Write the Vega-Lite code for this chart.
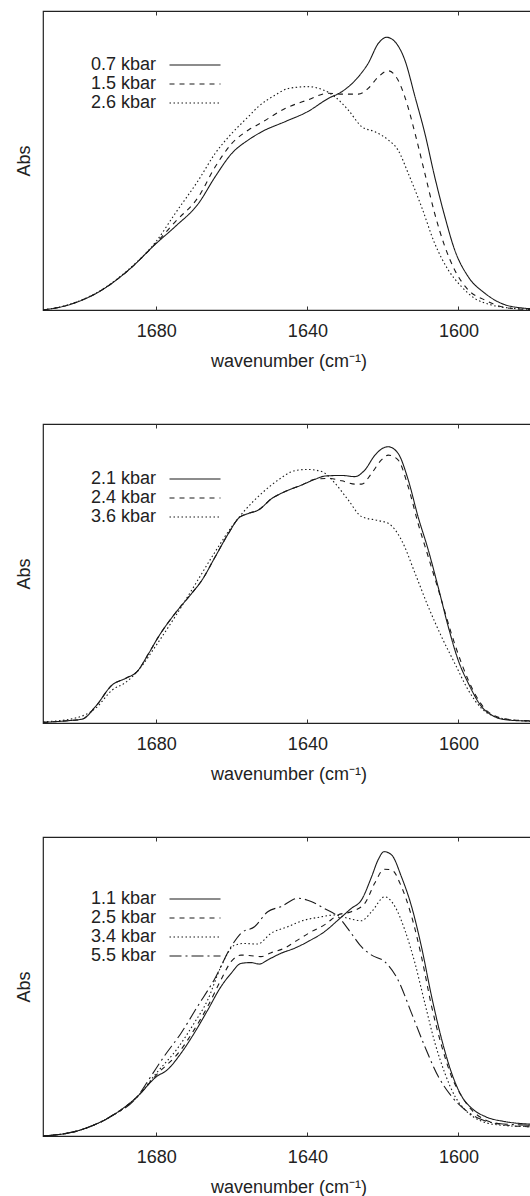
{
  "$schema": "https://vega.github.io/schema/vega-lite/v6.json",
  "padding": {"left": 14, "top": 9, "right": 0, "bottom": 0},
  "config": {
    "font": "Liberation Sans",
    "view": {"stroke": "#222", "strokeWidth": 1.2},
    "axis": {"grid": false, "domain": false, "labelColor": "#222", "titleColor": "#222", "tickColor": "#333"},
    "line": {"interpolate": "monotone", "strokeWidth": 1.1, "color": "#1a1a1a", "clip": true}
  },
  "datasets": {
    "p1": [
      {"w":1710,"a":0.0,"s":"0.7 kbar"},{"w":1703.2,"a":0.017,"s":"0.7 kbar"},{"w":1694.4,"a":0.067,"s":"0.7 kbar"},{"w":1687.3,"a":0.134,"s":"0.7 kbar"},{"w":1680,"a":0.223,"s":"0.7 kbar"},{"w":1675,"a":0.279,"s":"0.7 kbar"},{"w":1668.8,"a":0.357,"s":"0.7 kbar"},{"w":1664.4,"a":0.446,"s":"0.7 kbar"},{"w":1660,"a":0.524,"s":"0.7 kbar"},{"w":1655.6,"a":0.569,"s":"0.7 kbar"},{"w":1652.1,"a":0.596,"s":"0.7 kbar"},{"w":1645.9,"a":0.63,"s":"0.7 kbar"},{"w":1640,"a":0.663,"s":"0.7 kbar"},{"w":1634.4,"a":0.708,"s":"0.7 kbar"},{"w":1630.9,"a":0.73,"s":"0.7 kbar"},{"w":1626.5,"a":0.78,"s":"0.7 kbar"},{"w":1623.9,"a":0.825,"s":"0.7 kbar"},{"w":1621.2,"a":0.892,"s":"0.7 kbar"},{"w":1619,"a":0.912,"s":"0.7 kbar"},{"w":1616.8,"a":0.897,"s":"0.7 kbar"},{"w":1614.2,"a":0.836,"s":"0.7 kbar"},{"w":1611.5,"a":0.713,"s":"0.7 kbar"},{"w":1608.9,"a":0.591,"s":"0.7 kbar"},{"w":1606.3,"a":0.446,"s":"0.7 kbar"},{"w":1603.6,"a":0.312,"s":"0.7 kbar"},{"w":1601,"a":0.201,"s":"0.7 kbar"},{"w":1597.4,"a":0.111,"s":"0.7 kbar"},{"w":1593,"a":0.056,"s":"0.7 kbar"},{"w":1588.6,"a":0.022,"s":"0.7 kbar"},{"w":1582.6,"a":0.006,"s":"0.7 kbar"},{"w":1580,"a":0.004,"s":"0.7 kbar"},
      {"w":1710,"a":0.0,"s":"1.5 kbar"},{"w":1703.2,"a":0.017,"s":"1.5 kbar"},{"w":1694.4,"a":0.067,"s":"1.5 kbar"},{"w":1687.3,"a":0.134,"s":"1.5 kbar"},{"w":1680,"a":0.225,"s":"1.5 kbar"},{"w":1675,"a":0.295,"s":"1.5 kbar"},{"w":1668.8,"a":0.379,"s":"1.5 kbar"},{"w":1664.4,"a":0.479,"s":"1.5 kbar"},{"w":1660,"a":0.557,"s":"1.5 kbar"},{"w":1655.6,"a":0.602,"s":"1.5 kbar"},{"w":1652.1,"a":0.627,"s":"1.5 kbar"},{"w":1645.9,"a":0.674,"s":"1.5 kbar"},{"w":1640,"a":0.702,"s":"1.5 kbar"},{"w":1634.4,"a":0.725,"s":"1.5 kbar"},{"w":1630.9,"a":0.722,"s":"1.5 kbar"},{"w":1626.5,"a":0.722,"s":"1.5 kbar"},{"w":1623.9,"a":0.741,"s":"1.5 kbar"},{"w":1621.2,"a":0.78,"s":"1.5 kbar"},{"w":1618.6,"a":0.8,"s":"1.5 kbar"},{"w":1616,"a":0.769,"s":"1.5 kbar"},{"w":1614.2,"a":0.713,"s":"1.5 kbar"},{"w":1611.5,"a":0.591,"s":"1.5 kbar"},{"w":1608.9,"a":0.457,"s":"1.5 kbar"},{"w":1606.3,"a":0.323,"s":"1.5 kbar"},{"w":1603.6,"a":0.212,"s":"1.5 kbar"},{"w":1601,"a":0.134,"s":"1.5 kbar"},{"w":1597.4,"a":0.067,"s":"1.5 kbar"},{"w":1593,"a":0.033,"s":"1.5 kbar"},{"w":1588.6,"a":0.011,"s":"1.5 kbar"},{"w":1582.6,"a":0.002,"s":"1.5 kbar"},{"w":1580,"a":0.001,"s":"1.5 kbar"},
      {"w":1710,"a":0.0,"s":"2.6 kbar"},{"w":1703.2,"a":0.018,"s":"2.6 kbar"},{"w":1694.4,"a":0.068,"s":"2.6 kbar"},{"w":1687.3,"a":0.136,"s":"2.6 kbar"},{"w":1680,"a":0.23,"s":"2.6 kbar"},{"w":1675,"a":0.323,"s":"2.6 kbar"},{"w":1668.8,"a":0.435,"s":"2.6 kbar"},{"w":1664.4,"a":0.524,"s":"2.6 kbar"},{"w":1660,"a":0.591,"s":"2.6 kbar"},{"w":1655.6,"a":0.647,"s":"2.6 kbar"},{"w":1653,"a":0.68,"s":"2.6 kbar"},{"w":1648.5,"a":0.719,"s":"2.6 kbar"},{"w":1645,"a":0.741,"s":"2.6 kbar"},{"w":1640,"a":0.747,"s":"2.6 kbar"},{"w":1636.2,"a":0.738,"s":"2.6 kbar"},{"w":1632.7,"a":0.713,"s":"2.6 kbar"},{"w":1629.2,"a":0.669,"s":"2.6 kbar"},{"w":1625.6,"a":0.613,"s":"2.6 kbar"},{"w":1622.1,"a":0.596,"s":"2.6 kbar"},{"w":1618.6,"a":0.569,"s":"2.6 kbar"},{"w":1616,"a":0.535,"s":"2.6 kbar"},{"w":1613.3,"a":0.457,"s":"2.6 kbar"},{"w":1609.8,"a":0.346,"s":"2.6 kbar"},{"w":1606.3,"a":0.223,"s":"2.6 kbar"},{"w":1602.7,"a":0.134,"s":"2.6 kbar"},{"w":1599.2,"a":0.078,"s":"2.6 kbar"},{"w":1595.7,"a":0.039,"s":"2.6 kbar"},{"w":1591.3,"a":0.017,"s":"2.6 kbar"},{"w":1586,"a":0.006,"s":"2.6 kbar"},{"w":1580,"a":0.002,"s":"2.6 kbar"}
    ],
    "p2": [
      {"w":1710,"a":0.002,"s":"2.1 kbar"},{"w":1703.2,"a":0.008,"s":"2.1 kbar"},{"w":1699.6,"a":0.013,"s":"2.1 kbar"},{"w":1696.1,"a":0.055,"s":"2.1 kbar"},{"w":1691.7,"a":0.127,"s":"2.1 kbar"},{"w":1688.2,"a":0.149,"s":"2.1 kbar"},{"w":1685.1,"a":0.172,"s":"2.1 kbar"},{"w":1682,"a":0.233,"s":"2.1 kbar"},{"w":1679.4,"a":0.289,"s":"2.1 kbar"},{"w":1675,"a":0.367,"s":"2.1 kbar"},{"w":1670.6,"a":0.434,"s":"2.1 kbar"},{"w":1667.9,"a":0.478,"s":"2.1 kbar"},{"w":1664.4,"a":0.556,"s":"2.1 kbar"},{"w":1660.9,"a":0.634,"s":"2.1 kbar"},{"w":1658.2,"a":0.685,"s":"2.1 kbar"},{"w":1655.6,"a":0.701,"s":"2.1 kbar"},{"w":1653,"a":0.712,"s":"2.1 kbar"},{"w":1649.4,"a":0.751,"s":"2.1 kbar"},{"w":1645.9,"a":0.774,"s":"2.1 kbar"},{"w":1641.5,"a":0.796,"s":"2.1 kbar"},{"w":1638,"a":0.815,"s":"2.1 kbar"},{"w":1635.3,"a":0.826,"s":"2.1 kbar"},{"w":1630.9,"a":0.828,"s":"2.1 kbar"},{"w":1627.4,"a":0.824,"s":"2.1 kbar"},{"w":1624.8,"a":0.846,"s":"2.1 kbar"},{"w":1622.1,"a":0.896,"s":"2.1 kbar"},{"w":1619.5,"a":0.922,"s":"2.1 kbar"},{"w":1618.6,"a":0.924,"s":"2.1 kbar"},{"w":1616,"a":0.902,"s":"2.1 kbar"},{"w":1613.3,"a":0.813,"s":"2.1 kbar"},{"w":1610.7,"a":0.69,"s":"2.1 kbar"},{"w":1608,"a":0.579,"s":"2.1 kbar"},{"w":1605.4,"a":0.456,"s":"2.1 kbar"},{"w":1602.7,"a":0.322,"s":"2.1 kbar"},{"w":1600.1,"a":0.211,"s":"2.1 kbar"},{"w":1597.4,"a":0.133,"s":"2.1 kbar"},{"w":1593.9,"a":0.055,"s":"2.1 kbar"},{"w":1590.4,"a":0.021,"s":"2.1 kbar"},{"w":1586.9,"a":0.01,"s":"2.1 kbar"},{"w":1582.6,"a":0.007,"s":"2.1 kbar"},{"w":1580,"a":0.006,"s":"2.1 kbar"},
      {"w":1710,"a":0.002,"s":"2.4 kbar"},{"w":1703.2,"a":0.008,"s":"2.4 kbar"},{"w":1699.6,"a":0.013,"s":"2.4 kbar"},{"w":1696.1,"a":0.055,"s":"2.4 kbar"},{"w":1691.7,"a":0.127,"s":"2.4 kbar"},{"w":1688.2,"a":0.149,"s":"2.4 kbar"},{"w":1685.1,"a":0.172,"s":"2.4 kbar"},{"w":1682,"a":0.233,"s":"2.4 kbar"},{"w":1679.4,"a":0.289,"s":"2.4 kbar"},{"w":1675,"a":0.367,"s":"2.4 kbar"},{"w":1670.6,"a":0.434,"s":"2.4 kbar"},{"w":1667.9,"a":0.478,"s":"2.4 kbar"},{"w":1664.4,"a":0.556,"s":"2.4 kbar"},{"w":1660.9,"a":0.634,"s":"2.4 kbar"},{"w":1658.2,"a":0.685,"s":"2.4 kbar"},{"w":1655.6,"a":0.701,"s":"2.4 kbar"},{"w":1653,"a":0.712,"s":"2.4 kbar"},{"w":1649.4,"a":0.751,"s":"2.4 kbar"},{"w":1645.9,"a":0.774,"s":"2.4 kbar"},{"w":1641.5,"a":0.796,"s":"2.4 kbar"},{"w":1638,"a":0.815,"s":"2.4 kbar"},{"w":1634.4,"a":0.818,"s":"2.4 kbar"},{"w":1630.9,"a":0.81,"s":"2.4 kbar"},{"w":1627.4,"a":0.799,"s":"2.4 kbar"},{"w":1625.6,"a":0.799,"s":"2.4 kbar"},{"w":1623,"a":0.835,"s":"2.4 kbar"},{"w":1620.4,"a":0.88,"s":"2.4 kbar"},{"w":1618.6,"a":0.896,"s":"2.4 kbar"},{"w":1616,"a":0.88,"s":"2.4 kbar"},{"w":1613.3,"a":0.79,"s":"2.4 kbar"},{"w":1610.7,"a":0.668,"s":"2.4 kbar"},{"w":1608,"a":0.556,"s":"2.4 kbar"},{"w":1604.5,"a":0.411,"s":"2.4 kbar"},{"w":1601.9,"a":0.3,"s":"2.4 kbar"},{"w":1599.2,"a":0.2,"s":"2.4 kbar"},{"w":1595.7,"a":0.099,"s":"2.4 kbar"},{"w":1592.2,"a":0.038,"s":"2.4 kbar"},{"w":1586.9,"a":0.012,"s":"2.4 kbar"},{"w":1582.6,"a":0.008,"s":"2.4 kbar"},{"w":1580,"a":0.007,"s":"2.4 kbar"},
      {"w":1710,"a":0.004,"s":"3.6 kbar"},{"w":1703.2,"a":0.012,"s":"3.6 kbar"},{"w":1696.1,"a":0.049,"s":"3.6 kbar"},{"w":1691.7,"a":0.11,"s":"3.6 kbar"},{"w":1688.2,"a":0.135,"s":"3.6 kbar"},{"w":1684.7,"a":0.177,"s":"3.6 kbar"},{"w":1680.3,"a":0.255,"s":"3.6 kbar"},{"w":1675,"a":0.356,"s":"3.6 kbar"},{"w":1670.6,"a":0.445,"s":"3.6 kbar"},{"w":1664.4,"a":0.573,"s":"3.6 kbar"},{"w":1660,"a":0.657,"s":"3.6 kbar"},{"w":1656.5,"a":0.712,"s":"3.6 kbar"},{"w":1652.1,"a":0.768,"s":"3.6 kbar"},{"w":1647.7,"a":0.813,"s":"3.6 kbar"},{"w":1643.3,"a":0.844,"s":"3.6 kbar"},{"w":1640,"a":0.848,"s":"3.6 kbar"},{"w":1636.2,"a":0.841,"s":"3.6 kbar"},{"w":1632.7,"a":0.802,"s":"3.6 kbar"},{"w":1629.2,"a":0.746,"s":"3.6 kbar"},{"w":1625.6,"a":0.69,"s":"3.6 kbar"},{"w":1621.2,"a":0.677,"s":"3.6 kbar"},{"w":1618.6,"a":0.668,"s":"3.6 kbar"},{"w":1615.1,"a":0.612,"s":"3.6 kbar"},{"w":1611.5,"a":0.501,"s":"3.6 kbar"},{"w":1608,"a":0.389,"s":"3.6 kbar"},{"w":1604.5,"a":0.289,"s":"3.6 kbar"},{"w":1601,"a":0.2,"s":"3.6 kbar"},{"w":1597.4,"a":0.11,"s":"3.6 kbar"},{"w":1593.9,"a":0.049,"s":"3.6 kbar"},{"w":1588.6,"a":0.016,"s":"3.6 kbar"},{"w":1582.6,"a":0.007,"s":"3.6 kbar"},{"w":1580,"a":0.006,"s":"3.6 kbar"}
    ],
    "p3": [
      {"w":1710,"a":0.0,"s":"1.1 kbar"},{"w":1700.1,"a":0.02,"s":"1.1 kbar"},{"w":1692.1,"a":0.065,"s":"1.1 kbar"},{"w":1685,"a":0.132,"s":"1.1 kbar"},{"w":1680,"a":0.198,"s":"1.1 kbar"},{"w":1677.1,"a":0.221,"s":"1.1 kbar"},{"w":1673.5,"a":0.276,"s":"1.1 kbar"},{"w":1670,"a":0.343,"s":"1.1 kbar"},{"w":1666.4,"a":0.421,"s":"1.1 kbar"},{"w":1662.9,"a":0.499,"s":"1.1 kbar"},{"w":1660.2,"a":0.544,"s":"1.1 kbar"},{"w":1657.6,"a":0.577,"s":"1.1 kbar"},{"w":1654.9,"a":0.58,"s":"1.1 kbar"},{"w":1652.7,"a":0.575,"s":"1.1 kbar"},{"w":1650.5,"a":0.589,"s":"1.1 kbar"},{"w":1647,"a":0.611,"s":"1.1 kbar"},{"w":1643.4,"a":0.628,"s":"1.1 kbar"},{"w":1639,"a":0.656,"s":"1.1 kbar"},{"w":1635.5,"a":0.683,"s":"1.1 kbar"},{"w":1631.9,"a":0.722,"s":"1.1 kbar"},{"w":1628.4,"a":0.761,"s":"1.1 kbar"},{"w":1625.7,"a":0.789,"s":"1.1 kbar"},{"w":1623,"a":0.867,"s":"1.1 kbar"},{"w":1621.3,"a":0.923,"s":"1.1 kbar"},{"w":1619.7,"a":0.951,"s":"1.1 kbar"},{"w":1617.7,"a":0.94,"s":"1.1 kbar"},{"w":1615.1,"a":0.867,"s":"1.1 kbar"},{"w":1612.4,"a":0.767,"s":"1.1 kbar"},{"w":1609.8,"a":0.633,"s":"1.1 kbar"},{"w":1607.1,"a":0.466,"s":"1.1 kbar"},{"w":1604.4,"a":0.321,"s":"1.1 kbar"},{"w":1601.8,"a":0.21,"s":"1.1 kbar"},{"w":1599.1,"a":0.132,"s":"1.1 kbar"},{"w":1596.5,"a":0.093,"s":"1.1 kbar"},{"w":1592.9,"a":0.065,"s":"1.1 kbar"},{"w":1587.6,"a":0.048,"s":"1.1 kbar"},{"w":1581.6,"a":0.04,"s":"1.1 kbar"},{"w":1580,"a":0.039,"s":"1.1 kbar"},
      {"w":1710,"a":0.0,"s":"2.5 kbar"},{"w":1700.1,"a":0.02,"s":"2.5 kbar"},{"w":1692.1,"a":0.065,"s":"2.5 kbar"},{"w":1685,"a":0.132,"s":"2.5 kbar"},{"w":1680,"a":0.204,"s":"2.5 kbar"},{"w":1673.5,"a":0.288,"s":"2.5 kbar"},{"w":1670,"a":0.355,"s":"2.5 kbar"},{"w":1666.4,"a":0.433,"s":"2.5 kbar"},{"w":1662.9,"a":0.522,"s":"2.5 kbar"},{"w":1660.2,"a":0.583,"s":"2.5 kbar"},{"w":1657.6,"a":0.605,"s":"2.5 kbar"},{"w":1654.9,"a":0.603,"s":"2.5 kbar"},{"w":1652.3,"a":0.6,"s":"2.5 kbar"},{"w":1649.6,"a":0.613,"s":"2.5 kbar"},{"w":1646.1,"a":0.628,"s":"2.5 kbar"},{"w":1642.5,"a":0.656,"s":"2.5 kbar"},{"w":1639,"a":0.683,"s":"2.5 kbar"},{"w":1635.5,"a":0.706,"s":"2.5 kbar"},{"w":1631.9,"a":0.739,"s":"2.5 kbar"},{"w":1628.4,"a":0.75,"s":"2.5 kbar"},{"w":1624.8,"a":0.778,"s":"2.5 kbar"},{"w":1622.2,"a":0.845,"s":"2.5 kbar"},{"w":1619.7,"a":0.892,"s":"2.5 kbar"},{"w":1617.7,"a":0.89,"s":"2.5 kbar"},{"w":1615.1,"a":0.834,"s":"2.5 kbar"},{"w":1612.4,"a":0.734,"s":"2.5 kbar"},{"w":1609.8,"a":0.6,"s":"2.5 kbar"},{"w":1607.1,"a":0.433,"s":"2.5 kbar"},{"w":1604.4,"a":0.299,"s":"2.5 kbar"},{"w":1601.8,"a":0.198,"s":"2.5 kbar"},{"w":1599.1,"a":0.132,"s":"2.5 kbar"},{"w":1596.5,"a":0.087,"s":"2.5 kbar"},{"w":1592.9,"a":0.054,"s":"2.5 kbar"},{"w":1587.6,"a":0.037,"s":"2.5 kbar"},{"w":1581.6,"a":0.031,"s":"2.5 kbar"},{"w":1580,"a":0.03,"s":"2.5 kbar"},
      {"w":1710,"a":0.0,"s":"3.4 kbar"},{"w":1700.1,"a":0.02,"s":"3.4 kbar"},{"w":1692.1,"a":0.065,"s":"3.4 kbar"},{"w":1685,"a":0.132,"s":"3.4 kbar"},{"w":1680,"a":0.21,"s":"3.4 kbar"},{"w":1674.4,"a":0.293,"s":"3.4 kbar"},{"w":1670,"a":0.377,"s":"3.4 kbar"},{"w":1666.4,"a":0.455,"s":"3.4 kbar"},{"w":1662.9,"a":0.566,"s":"3.4 kbar"},{"w":1659.4,"a":0.637,"s":"3.4 kbar"},{"w":1656.7,"a":0.644,"s":"3.4 kbar"},{"w":1653.2,"a":0.642,"s":"3.4 kbar"},{"w":1649.6,"a":0.678,"s":"3.4 kbar"},{"w":1645.2,"a":0.7,"s":"3.4 kbar"},{"w":1640.8,"a":0.722,"s":"3.4 kbar"},{"w":1637.2,"a":0.731,"s":"3.4 kbar"},{"w":1632.8,"a":0.739,"s":"3.4 kbar"},{"w":1629.2,"a":0.728,"s":"3.4 kbar"},{"w":1625.7,"a":0.72,"s":"3.4 kbar"},{"w":1623,"a":0.75,"s":"3.4 kbar"},{"w":1619.5,"a":0.8,"s":"3.4 kbar"},{"w":1616.8,"a":0.767,"s":"3.4 kbar"},{"w":1614.2,"a":0.689,"s":"3.4 kbar"},{"w":1611.5,"a":0.577,"s":"3.4 kbar"},{"w":1608.9,"a":0.444,"s":"3.4 kbar"},{"w":1606.2,"a":0.31,"s":"3.4 kbar"},{"w":1603.6,"a":0.21,"s":"3.4 kbar"},{"w":1600.9,"a":0.132,"s":"3.4 kbar"},{"w":1598.2,"a":0.087,"s":"3.4 kbar"},{"w":1594.7,"a":0.054,"s":"3.4 kbar"},{"w":1589.4,"a":0.037,"s":"3.4 kbar"},{"w":1581.6,"a":0.031,"s":"3.4 kbar"},{"w":1580,"a":0.03,"s":"3.4 kbar"},
      {"w":1710,"a":0.0,"s":"5.5 kbar"},{"w":1700.1,"a":0.02,"s":"5.5 kbar"},{"w":1692.1,"a":0.065,"s":"5.5 kbar"},{"w":1685,"a":0.132,"s":"5.5 kbar"},{"w":1681.5,"a":0.198,"s":"5.5 kbar"},{"w":1678,"a":0.265,"s":"5.5 kbar"},{"w":1673.5,"a":0.343,"s":"5.5 kbar"},{"w":1669.1,"a":0.433,"s":"5.5 kbar"},{"w":1664.7,"a":0.522,"s":"5.5 kbar"},{"w":1660.2,"a":0.633,"s":"5.5 kbar"},{"w":1657.6,"a":0.678,"s":"5.5 kbar"},{"w":1654,"a":0.7,"s":"5.5 kbar"},{"w":1650.5,"a":0.75,"s":"5.5 kbar"},{"w":1647,"a":0.767,"s":"5.5 kbar"},{"w":1642.5,"a":0.795,"s":"5.5 kbar"},{"w":1639,"a":0.784,"s":"5.5 kbar"},{"w":1635.5,"a":0.761,"s":"5.5 kbar"},{"w":1631.9,"a":0.734,"s":"5.5 kbar"},{"w":1628.4,"a":0.678,"s":"5.5 kbar"},{"w":1625.7,"a":0.633,"s":"5.5 kbar"},{"w":1623,"a":0.605,"s":"5.5 kbar"},{"w":1619.5,"a":0.583,"s":"5.5 kbar"},{"w":1616,"a":0.522,"s":"5.5 kbar"},{"w":1612.4,"a":0.41,"s":"5.5 kbar"},{"w":1608.9,"a":0.299,"s":"5.5 kbar"},{"w":1605.3,"a":0.198,"s":"5.5 kbar"},{"w":1601.8,"a":0.132,"s":"5.5 kbar"},{"w":1598.2,"a":0.087,"s":"5.5 kbar"},{"w":1594.7,"a":0.059,"s":"5.5 kbar"},{"w":1589.4,"a":0.042,"s":"5.5 kbar"},{"w":1581.6,"a":0.036,"s":"5.5 kbar"},{"w":1580,"a":0.035,"s":"5.5 kbar"}
    ]
  },
  "vconcat": [
    {
      "width": 491, "height": 299,
      "layer": [
        {
          "data": {"name": "p1"},
          "mark": {"type": "line"},
          "encoding": {
            "x": {"field": "w", "type": "quantitative", "scale": {"domain": [1580, 1710], "reverse": true, "nice": false, "zero": false},
                  "axis": {"orient": "bottom", "values": [1600, 1640, 1680], "format": "d", "tickSize": -4, "labelPadding": 16, "labelFontSize": 18, "title": "wavenumber (cm⁻¹)", "titleFontSize": 18, "titleFontWeight": "normal", "titlePadding": 12}},
            "y": {"field": "a", "type": "quantitative", "scale": {"domain": [0, 1], "nice": false},
                  "axis": {"title": "Abs", "labels": false, "ticks": false, "titleFontSize": 18, "titleFontWeight": "normal", "titlePadding": 10}},
            "strokeDash": {"field": "s", "type": "nominal",
                  "scale": {"domain": ["0.7 kbar", "1.5 kbar", "2.6 kbar"], "range": [[1, 0], [5, 5], [1.5, 2.5]]},
                  "legend": {"title": null, "orient": "none", "legendX": 143, "legendY": 45, "padding": 0, "symbolType": "M-5.1,0H5.1", "symbolSize": 100, "symbolStrokeWidth": 1, "labelFontSize": 18, "labelColor": "#222", "labelAlign": "right", "labelOffset": -48, "rowPadding": 1}}
          }
        },
        {
          "data": {"values": [{}]},
          "mark": {"type": "rule", "strokeOpacity": 0},
          "encoding": {"x": {"datum": 1640, "type": "quantitative", "axis": {"orient": "top", "values": [1600, 1640, 1680], "labels": false, "title": null, "tickSize": -4}}}
        }
      ],
      "resolve": {"axis": {"x": "independent"}}
    },
    {
      "width": 491, "height": 299,
      "layer": [
        {
          "data": {"name": "p2"},
          "mark": {"type": "line"},
          "encoding": {
            "x": {"field": "w", "type": "quantitative", "scale": {"domain": [1580, 1710], "reverse": true, "nice": false, "zero": false},
                  "axis": {"orient": "bottom", "values": [1600, 1640, 1680], "format": "d", "tickSize": -4, "labelPadding": 16, "labelFontSize": 18, "title": "wavenumber (cm⁻¹)", "titleFontSize": 18, "titleFontWeight": "normal", "titlePadding": 12}},
            "y": {"field": "a", "type": "quantitative", "scale": {"domain": [0, 1], "nice": false},
                  "axis": {"title": "Abs", "labels": false, "ticks": false, "titleFontSize": 18, "titleFontWeight": "normal", "titlePadding": 10}},
            "strokeDash": {"field": "s", "type": "nominal",
                  "scale": {"domain": ["2.1 kbar", "2.4 kbar", "3.6 kbar"], "range": [[1, 0], [5, 5], [1.5, 2.5]]},
                  "legend": {"title": null, "orient": "none", "legendX": 143, "legendY": 46, "padding": 0, "symbolType": "M-5.1,0H5.1", "symbolSize": 100, "symbolStrokeWidth": 1, "labelFontSize": 18, "labelColor": "#222", "labelAlign": "right", "labelOffset": -48, "rowPadding": 1}}
          }
        },
        {
          "data": {"values": [{}]},
          "mark": {"type": "rule", "strokeOpacity": 0},
          "encoding": {"x": {"datum": 1640, "type": "quantitative", "axis": {"orient": "top", "values": [1600, 1640, 1680], "labels": false, "title": null, "tickSize": -4}}}
        }
      ],
      "resolve": {"axis": {"x": "independent"}}
    },
    {
      "width": 491, "height": 299,
      "layer": [
        {
          "data": {"name": "p3"},
          "mark": {"type": "line"},
          "encoding": {
            "x": {"field": "w", "type": "quantitative", "scale": {"domain": [1580, 1710], "reverse": true, "nice": false, "zero": false},
                  "axis": {"orient": "bottom", "values": [1600, 1640, 1680], "format": "d", "tickSize": -4, "labelPadding": 16, "labelFontSize": 18, "title": "wavenumber (cm⁻¹)", "titleFontSize": 18, "titleFontWeight": "normal", "titlePadding": 12}},
            "y": {"field": "a", "type": "quantitative", "scale": {"domain": [0, 1], "nice": false},
                  "axis": {"title": "Abs", "labels": false, "ticks": false, "titleFontSize": 18, "titleFontWeight": "normal", "titlePadding": 10}},
            "strokeDash": {"field": "s", "type": "nominal",
                  "scale": {"domain": ["1.1 kbar", "2.5 kbar", "3.4 kbar", "5.5 kbar"], "range": [[1, 0], [5, 5], [1.5, 2.5], [12, 4, 2, 4]]},
                  "legend": {"title": null, "orient": "none", "legendX": 143, "legendY": 53, "padding": 0, "symbolType": "M-5.1,0H5.1", "symbolSize": 100, "symbolStrokeWidth": 1, "labelFontSize": 18, "labelColor": "#222", "labelAlign": "right", "labelOffset": -48, "rowPadding": 1}}
          }
        },
        {
          "data": {"values": [{}]},
          "mark": {"type": "rule", "strokeOpacity": 0},
          "encoding": {"x": {"datum": 1640, "type": "quantitative", "axis": {"orient": "top", "values": [1600, 1640, 1680], "labels": false, "title": null, "tickSize": -4}}}
        }
      ],
      "resolve": {"axis": {"x": "independent"}}
    }
  ],
  "spacing": 114,
  "bounds": "flush",
  "resolve": {"scale": {"strokeDash": "independent"}, "legend": {"strokeDash": "independent"}}
}
